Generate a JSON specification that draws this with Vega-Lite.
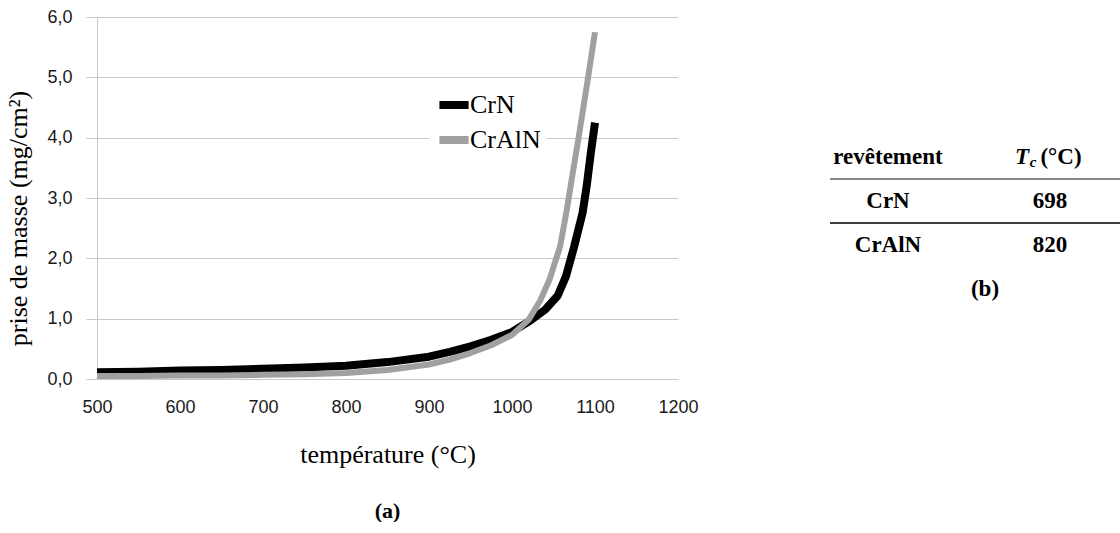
{
  "$schema": "https://vega.github.io/schema/vega-lite/v6.json",
  "padding": {"left": 5, "top": 8, "right": 0, "bottom": 0},
  "background": "white",
  "spacing": 130,
  "config": {"view": {"stroke": null}},
  "datasets": {
    "curves": [
      {"serie": "CrN", "temp": 500, "gain": 0.11},
      {"serie": "CrN", "temp": 550, "gain": 0.12},
      {"serie": "CrN", "temp": 600, "gain": 0.14},
      {"serie": "CrN", "temp": 650, "gain": 0.15},
      {"serie": "CrN", "temp": 700, "gain": 0.17},
      {"serie": "CrN", "temp": 750, "gain": 0.19},
      {"serie": "CrN", "temp": 800, "gain": 0.22},
      {"serie": "CrN", "temp": 850, "gain": 0.28},
      {"serie": "CrN", "temp": 900, "gain": 0.37},
      {"serie": "CrN", "temp": 925, "gain": 0.45},
      {"serie": "CrN", "temp": 950, "gain": 0.54},
      {"serie": "CrN", "temp": 975, "gain": 0.65},
      {"serie": "CrN", "temp": 1000, "gain": 0.78},
      {"serie": "CrN", "temp": 1020, "gain": 0.95},
      {"serie": "CrN", "temp": 1040, "gain": 1.15},
      {"serie": "CrN", "temp": 1055, "gain": 1.38},
      {"serie": "CrN", "temp": 1065, "gain": 1.7},
      {"serie": "CrN", "temp": 1075, "gain": 2.2},
      {"serie": "CrN", "temp": 1085, "gain": 2.75},
      {"serie": "CrN", "temp": 1090, "gain": 3.2},
      {"serie": "CrN", "temp": 1095, "gain": 3.75},
      {"serie": "CrN", "temp": 1100, "gain": 4.25},
      {"serie": "CrAlN", "temp": 500, "gain": 0.05},
      {"serie": "CrAlN", "temp": 550, "gain": 0.05},
      {"serie": "CrAlN", "temp": 600, "gain": 0.06},
      {"serie": "CrAlN", "temp": 650, "gain": 0.06},
      {"serie": "CrAlN", "temp": 700, "gain": 0.07},
      {"serie": "CrAlN", "temp": 750, "gain": 0.08},
      {"serie": "CrAlN", "temp": 800, "gain": 0.1},
      {"serie": "CrAlN", "temp": 850, "gain": 0.15},
      {"serie": "CrAlN", "temp": 900, "gain": 0.24},
      {"serie": "CrAlN", "temp": 925, "gain": 0.32},
      {"serie": "CrAlN", "temp": 950, "gain": 0.43},
      {"serie": "CrAlN", "temp": 975, "gain": 0.56},
      {"serie": "CrAlN", "temp": 1000, "gain": 0.73},
      {"serie": "CrAlN", "temp": 1020, "gain": 0.98},
      {"serie": "CrAlN", "temp": 1034, "gain": 1.3},
      {"serie": "CrAlN", "temp": 1045, "gain": 1.64},
      {"serie": "CrAlN", "temp": 1058, "gain": 2.2},
      {"serie": "CrAlN", "temp": 1066, "gain": 2.8},
      {"serie": "CrAlN", "temp": 1073, "gain": 3.4},
      {"serie": "CrAlN", "temp": 1080, "gain": 3.98},
      {"serie": "CrAlN", "temp": 1090, "gain": 4.85},
      {"serie": "CrAlN", "temp": 1100, "gain": 5.75}
    ],
    "table": [
      {"row": "header", "col": "revêtement", "label": "revêtement"},
      {"row": "CrN", "col": "revêtement", "label": "CrN"},
      {"row": "CrN", "col": "Tc", "label": "698"},
      {"row": "CrAlN", "col": "revêtement", "label": "CrAlN"},
      {"row": "CrAlN", "col": "Tc", "label": "820"}
    ],
    "tcHeader": [
      {"row": "header", "col": "Tc", "t": "T", "c": "c", "u": "(°C)"}
    ],
    "rules": [
      {"row": "header", "color": "grey"},
      {"row": "CrN", "color": "black"}
    ],
    "caption": [
      {"row": "caption", "label": "(b)"}
    ]
  },
  "hconcat": [
    {
      "width": 581,
      "height": 362,
      "title": {"text": "(a)", "orient": "bottom", "anchor": "middle", "font": "Liberation Serif", "fontSize": 22, "fontWeight": "bold", "color": "black", "offset": 34},
      "data": {"name": "curves"},
      "mark": {"type": "line", "strokeJoin": "round", "strokeCap": "butt"},
      "encoding": {
        "x": {
          "field": "temp", "type": "quantitative",
          "scale": {"domain": [500, 1200], "nice": false},
          "axis": {
            "title": "température (°C)", "values": [500, 600, 700, 800, 900, 1000, 1100, 1200], "format": "d",
            "grid": false, "ticks": false, "domainColor": "#c8c8c8", "domainWidth": 1, "labelFlush": false,
            "labelFont": "Liberation Sans", "labelFontSize": 18, "labelColor": "#1a1a1a", "labelPadding": 19,
            "titleFont": "Liberation Serif", "titleFontSize": 26, "titleFontWeight": "normal", "titleColor": "black", "titlePadding": 25
          }
        },
        "y": {
          "field": "gain", "type": "quantitative",
          "scale": {"domain": [0, 6], "nice": false},
          "axis": {
            "title": "prise de masse (mg/cm²)", "values": [0, 1, 2, 3, 4, 5, 6],
            "labelExpr": "replace(format(datum.value, '.1f'), '.', ',')",
            "grid": true, "gridColor": "#c8c8c8", "gridWidth": 1,
            "ticks": true, "tickSize": 11, "tickColor": "#c8c8c8",
            "domainColor": "#c8c8c8",
            "labelFont": "Liberation Sans", "labelFontSize": 18, "labelColor": "#1a1a1a", "labelPadding": 14,
            "titleFont": "Liberation Serif", "titleFontSize": 26, "titleFontWeight": "normal", "titleColor": "black", "titlePadding": 15,
            "titleY": 201
          }
        },
        "color": {
          "field": "serie", "type": "nominal",
          "scale": {"domain": ["CrN", "CrAlN"], "range": ["#000000", "#a0a0a0"]},
          "legend": {
            "title": null, "orient": "none", "legendX": 332, "legendY": 63,
            "fillColor": "white", "padding": 6,
            "symbolType": "stroke", "symbolStrokeWidth": 8, "symbolSize": 850,
            "labelFont": "Liberation Serif", "labelFontSize": 26, "labelColor": "black",
            "rowPadding": 0, "labelOffset": -3
          }
        },
        "strokeWidth": {
          "field": "serie", "type": "nominal",
          "scale": {"domain": ["CrN", "CrAlN"], "range": [8, 6]},
          "legend": null
        },
        "order": {"field": "serie", "sort": "ascending"}
      }
    },
    {
      "width": 290,
      "height": 362,
      "layer": [
        {
          "data": {"name": "rules"},
          "mark": {"type": "rule", "strokeWidth": 1.5},
          "encoding": {
            "y": {"field": "row", "type": "nominal", "bandPosition": 1,
                  "scale": {"type": "band", "domain": ["header", "CrN", "CrAlN", "caption"], "range": [118, 294], "paddingInner": 0, "paddingOuter": 0},
                  "axis": null},
            "color": {"field": "color", "type": "nominal", "scale": {"domain": ["grey", "black"], "range": ["#606060", "#000000"]}, "legend": null}
          }
        },
        {
          "data": {"name": "table"},
          "mark": {"type": "text", "font": "Liberation Serif", "fontSize": 23, "fontWeight": "bold", "color": "black"},
          "encoding": {
            "x": {"field": "col", "type": "nominal", "scale": {"type": "point", "domain": ["revêtement", "Tc"], "range": [58, 220], "padding": 0}, "axis": null},
            "y": {"field": "row", "type": "nominal", "axis": null},
            "text": {"field": "label"}
          }
        },
        {
          "data": {"name": "tcHeader"},
          "mark": {"type": "text", "font": "Liberation Serif", "fontSize": 23, "fontWeight": "bold", "fontStyle": "italic", "color": "black", "dx": -28},
          "encoding": {
            "x": {"field": "col", "type": "nominal", "axis": null},
            "y": {"field": "row", "type": "nominal", "axis": null},
            "text": {"field": "t"}
          }
        },
        {
          "data": {"name": "tcHeader"},
          "mark": {"type": "text", "font": "Liberation Serif", "fontSize": 15, "fontWeight": "bold", "fontStyle": "italic", "color": "black", "dx": -17, "dy": 5},
          "encoding": {
            "x": {"field": "col", "type": "nominal", "axis": null},
            "y": {"field": "row", "type": "nominal", "axis": null},
            "text": {"field": "c"}
          }
        },
        {
          "data": {"name": "tcHeader"},
          "mark": {"type": "text", "font": "Liberation Serif", "fontSize": 23, "fontWeight": "bold", "color": "black", "dx": 11},
          "encoding": {
            "x": {"field": "col", "type": "nominal", "axis": null},
            "y": {"field": "row", "type": "nominal", "axis": null},
            "text": {"field": "u"}
          }
        },
        {
          "data": {"name": "caption"},
          "mark": {"type": "text", "font": "Liberation Serif", "fontSize": 23, "fontWeight": "bold", "color": "black", "dx": 10},
          "encoding": {
            "y": {"field": "row", "type": "nominal", "axis": null},
            "text": {"field": "label"}
          }
        }
      ],
      "resolve": {"scale": {"color": "independent"}}
    }
  ],
  "resolve": {"scale": {"color": "independent", "x": "independent", "y": "independent"}}
}
